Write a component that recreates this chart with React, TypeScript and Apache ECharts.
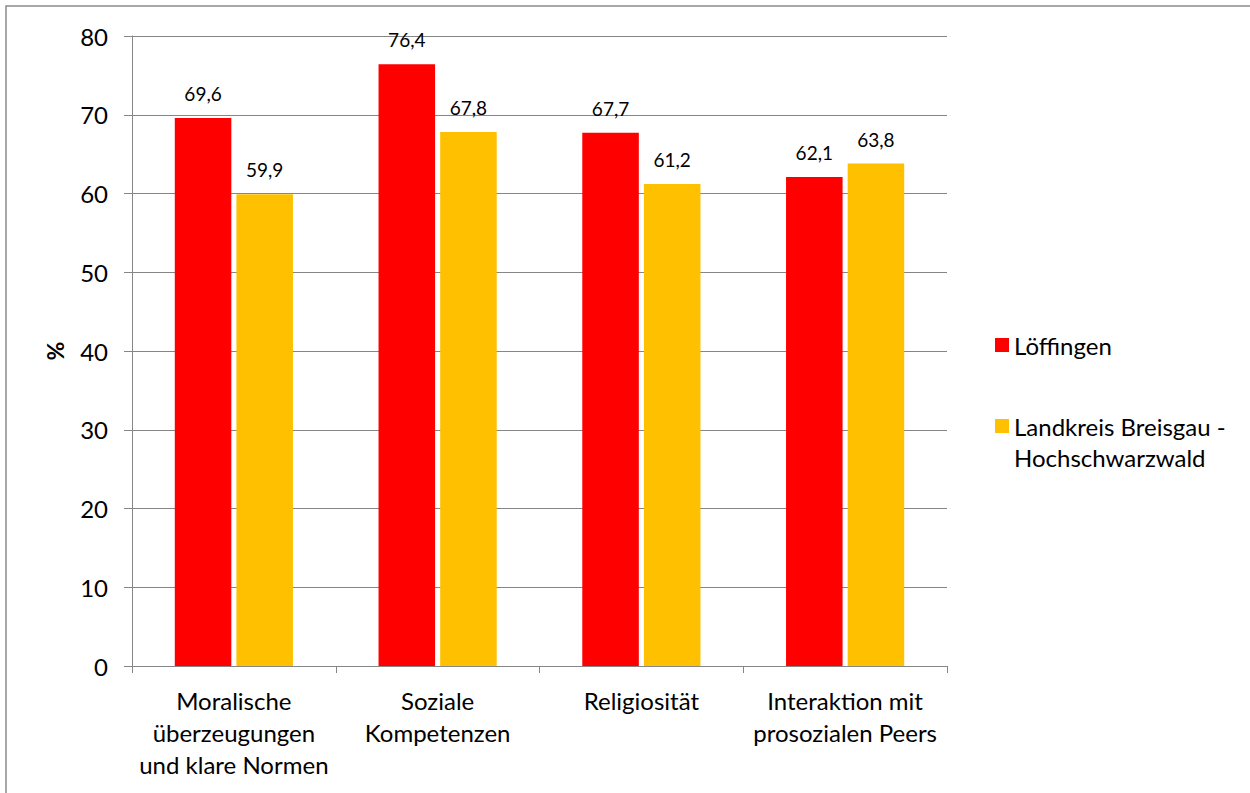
import React, { useEffect, useRef } from "react";
import * as echarts from "echarts";

const categories = [
  "Moralische\nüberzeugungen\nund klare Normen",
  "Soziale\nKompetenzen",
  "Religiosität",
  "Interaktion mit\nprosozialen Peers",
];
const seriesNames = ["Löffingen", "Landkreis Breisgau - Hochschwarzwald"];
const loeffingen = [69.6, 76.4, 67.7, 62.1];
const landkreis = [59.9, 67.8, 61.2, 63.8];
const colors = ["#FF0000", "#FFC000"];

const FONT = "Lato";

export default function App() {
  const ref = useRef<HTMLDivElement>(null);
  useEffect(() => {
    const chart = echarts.init(ref.current!, null, { renderer: "svg" });
    const label = {
      show: true,
      position: "top",
      distance: 15,
      fontFamily: FONT,
      fontSize: 19,
      color: "#000",
      formatter: (p: any) => String(p.value.toFixed(1)).replace(".", ","),
    };
    chart.setOption({
      animation: false,
      textStyle: { fontFamily: FONT },
      grid: { left: 132, right: 303, top: 36, bottom: 127, containLabel: false },
      graphic: [
        {
          type: "rect",
          shape: { x: 6, y: 6, width: 1400, height: 1000 },
          style: { fill: "none", stroke: "#8c8c8c", lineWidth: 1.5 },
          silent: true,
          z: -10,
        },
      ],
      legend: [
        {
          orient: "vertical",
          left: 990,
          top: 324.5,
          itemWidth: 14,
          itemHeight: 14,
          icon: "rect",
          data: [seriesNames[0]],
          textStyle: { fontFamily: FONT, fontSize: 24, color: "#000", lineHeight: 31 },
          selectedMode: false,
        },
        {
          orient: "vertical",
          left: 990,
          top: 374.5,
          itemWidth: 14,
          itemHeight: 14,
          icon: "rect",
          data: [seriesNames[1]],
          formatter: () => " \nLandkreis Breisgau -\nHochschwarzwald",
          textStyle: {
            fontFamily: FONT,
            fontSize: 24,
            color: "#000",
            lineHeight: 31,
          },
          selectedMode: false,
        },
      ],
      xAxis: {
        type: "category",
        data: categories,
        axisLine: { lineStyle: { color: "#868686", width: 1 } },
        axisTick: { show: true, length: 7, lineStyle: { color: "#868686" } },
        axisLabel: {
          interval: 0,
          fontFamily: FONT,
          fontSize: 24,
          lineHeight: 32,
          color: "#000",
          margin: 18,
        },
      },
      yAxis: {
        type: "value",
        min: 0,
        max: 80,
        interval: 10,
        name: "%",
        nameLocation: "middle",
        nameGap: 66,
        nameRotate: 90,
        nameTextStyle: { fontFamily: FONT, fontSize: 23, fontWeight: "bold", color: "#000" },
        axisLine: { show: true, lineStyle: { color: "#868686", width: 1 } },
        axisTick: { show: true, length: 8, lineStyle: { color: "#868686" } },
        splitLine: { lineStyle: { color: "#868686", width: 1 } },
        axisLabel: { fontFamily: FONT, fontSize: 24, color: "#000", margin: 24 },
      },
      series: [
        {
          name: seriesNames[0],
          type: "bar",
          data: loeffingen,
          itemStyle: { color: colors[0] },
          barGap: "9%",
          barCategoryGap: "42%",
          label,
        },
        {
          name: seriesNames[1],
          type: "bar",
          data: landkreis,
          itemStyle: { color: colors[1] },
          barGap: "9%",
          barCategoryGap: "42%",
          label,
        },
      ],
    });
    return () => chart.dispose();
  }, []);
  return (
    <div
      ref={ref}
      style={{ position: "absolute", left: 0, top: 0, width: 1250, height: 793, background: "#fff" }}
    />
  );
}
